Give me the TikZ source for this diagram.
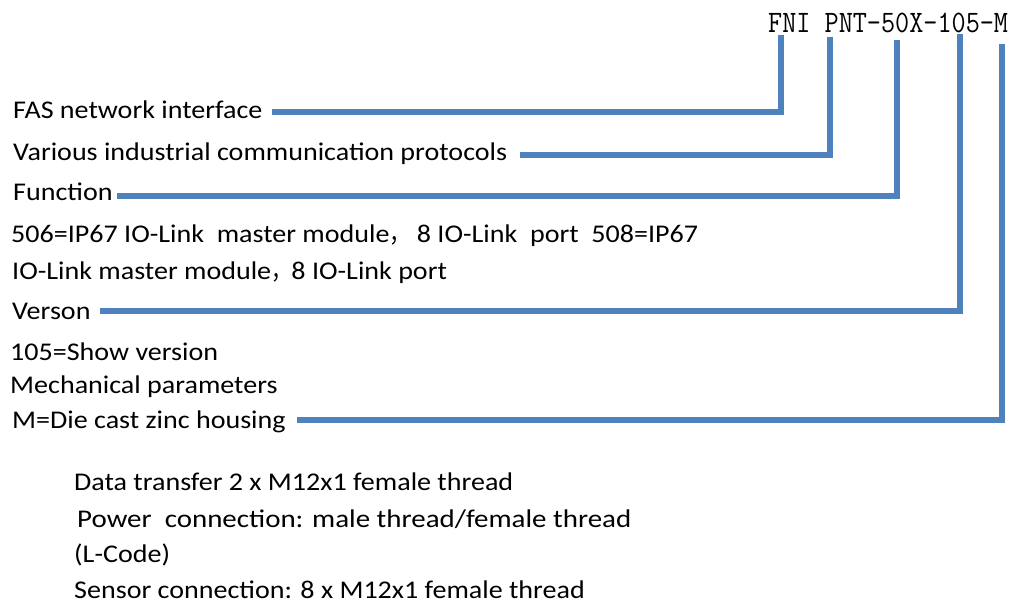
\documentclass[tikz,border=0pt]{standalone}
\usepackage{fontspec}
\setmainfont{Carlito}
\newfontfamily\cjk{Noto Sans CJK SC}
\usepackage{graphicx}
\definecolor{lineblue}{HTML}{4F81BD}
\tikzset{
  lbl/.style={anchor=base west, inner sep=0pt, xscale=1.1, transform shape, font=\fontsize{25.5}{30}\selectfont},
  conn/.style={draw=lineblue, line width=5.5pt, line join=miter, line cap=butt},
}
\begin{document}
\begin{tikzpicture}[x=1pt,y=-1pt]
\useasboundingbox (0,0) rectangle (1014,608);
% title
\node[anchor=base west, inner sep=0pt] (title) at (768,32)
  {\scalebox{1}[1.14]{\fontsize{27.4}{30}\selectfont\ttfamily FNI PNT-50X-105-M}};
% labels
\node[lbl] (fas) at (13,118) {FAS network interface};
\node[lbl] (var) at (13,160) {Various industrial communication protocols};
\node[lbl] (fun) at (13,200) {Function};
\node[lbl] (f1) at (11,242) {506=IP67 IO-Link\ \ master module\scalebox{0.75}[1]{\cjk ，}\ 8 IO-Link\ \ port\ \ 508=IP67};
\node[lbl] (f2) at (12,279) {IO-Link master module\scalebox{0.72}[1]{\cjk ，}8 IO-Link port};
\node[lbl] (ver) at (12,319) {Verson};
\node[lbl] (v1) at (10,360) {105=Show version};
\node[lbl] (mech) at (10,393) {Mechanical parameters};
\node[lbl] (m1) at (12,428) {M=Die cast zinc housing};
\node[lbl] (d1) at (74,490) {Data transfer 2 x M12x1 female thread};
\node[lbl, xscale=1.032] (d2) at (77,527) {Power\ \ connection: male thread/female thread};
\node[lbl] (d3) at (74,562) {(L-Code)};
\node[lbl] (d4) at (74,598) {Sensor connection: 8 x M12x1 female thread};
% connector ends
\coordinate (t1) at (781,35);
\coordinate (t2) at (830,37);
\coordinate (t3) at (897,40);
\coordinate (t4) at (960,34);
\coordinate (t5) at (1002,44);
\coordinate (s1) at (272,112);
\coordinate (s2) at (520,155);
\coordinate (s3) at (117,196);
\coordinate (s4) at (100,311);
\coordinate (s5) at (297,420);
% connectors
\draw[conn] (s1) -| (t1);
\draw[conn] (s2) -| (t2);
\draw[conn] (s3) -| (t3);
\draw[conn] (s4) -| (t4);
\draw[conn] (s5) -| (t5);
\end{tikzpicture}
\end{document}
